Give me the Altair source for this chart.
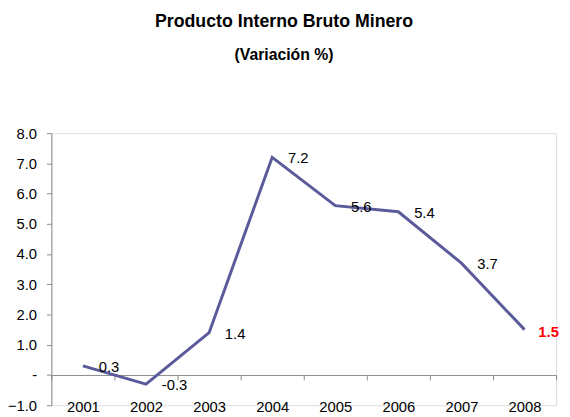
import altair as alt
import pandas as pd

years = ["2001", "2002", "2003", "2004", "2005", "2006", "2007", "2008"]
values = [0.3, -0.3, 1.4, 7.2, 5.6, 5.4, 3.7, 1.5]
y_ticks = [-1, 0, 1, 2, 3, 4, 5, 6, 7, 8]

FONT = "Liberation Sans, Arial, sans-serif"
LINE = "#5B5B9B"
W, H = 512, 276
YMIN, YMAX = -1, 8

df = pd.DataFrame({"year": years, "value": values,
                   "label": [f"{v:.1f}" for v in values]})

xenc = alt.X("year:N", scale=alt.Scale(type="band", paddingInner=0, paddingOuter=0),
             axis=alt.Axis(title=None, offset=-H / (YMAX - YMIN), domainColor="#8c8c8c",
                           tickColor="#8c8c8c", tickSize=5, tickBand="extent",
                           labelAngle=0, labelFont=FONT, labelFontSize=15,
                           labelColor="black", labelPadding=20, labelOverlap=False,
                           grid=False))
yenc = alt.Y("value:Q", scale=alt.Scale(domain=[YMIN, YMAX], nice=False, zero=False),
             axis=alt.Axis(title=None, values=y_ticks, domainColor="#8c8c8c",
                           tickColor="#8c8c8c", tickSize=5, labelFont=FONT,
                           labelFontSize=15, labelColor="black", labelPadding=10,
                           labelOverlap=False, labelFlush=False, grid=False,
                           labelExpr="datum.value == 0 ? '-' : format(datum.value, '.1f')"))

base = alt.Chart(df).encode(x=xenc, y=yenc)
line = base.mark_line(color=LINE, strokeWidth=3)
labels = base.mark_text(align="left", baseline="middle", dx=16, dy=1, font=FONT,
                        fontSize=15, color="black").encode(
    text="label:N"
).transform_filter("datum.year != '2008'")
last = base.mark_text(align="left", baseline="middle", dx=14, dy=2, font=FONT,
                      fontSize=15, fontWeight="bold", color="#FF0000").encode(
    text="label:N"
).transform_filter("datum.year == '2008'")

chart = alt.layer(line, labels, last).properties(
    width=W, height=H,
    title=alt.TitleParams(text="Producto Interno Bruto Minero",
                          subtitle="(Variación %)",
                          font=FONT, fontSize=18, fontWeight="bold", color="black",
                          subtitleFont=FONT, subtitleFontSize=16,
                          subtitleFontWeight="bold", subtitleColor="black",
                          subtitlePadding=17, anchor="middle", frame="group",
                          dx=-20, offset=64),
    autosize=alt.AutoSizeParams(type="none"),
    padding={"left": 44, "top": 124, "right": 6, "bottom": 8},
).configure_view(stroke=None).configure(background="white")

chart.save("out.html", embed_options={"renderer": "svg", "actions": False})
